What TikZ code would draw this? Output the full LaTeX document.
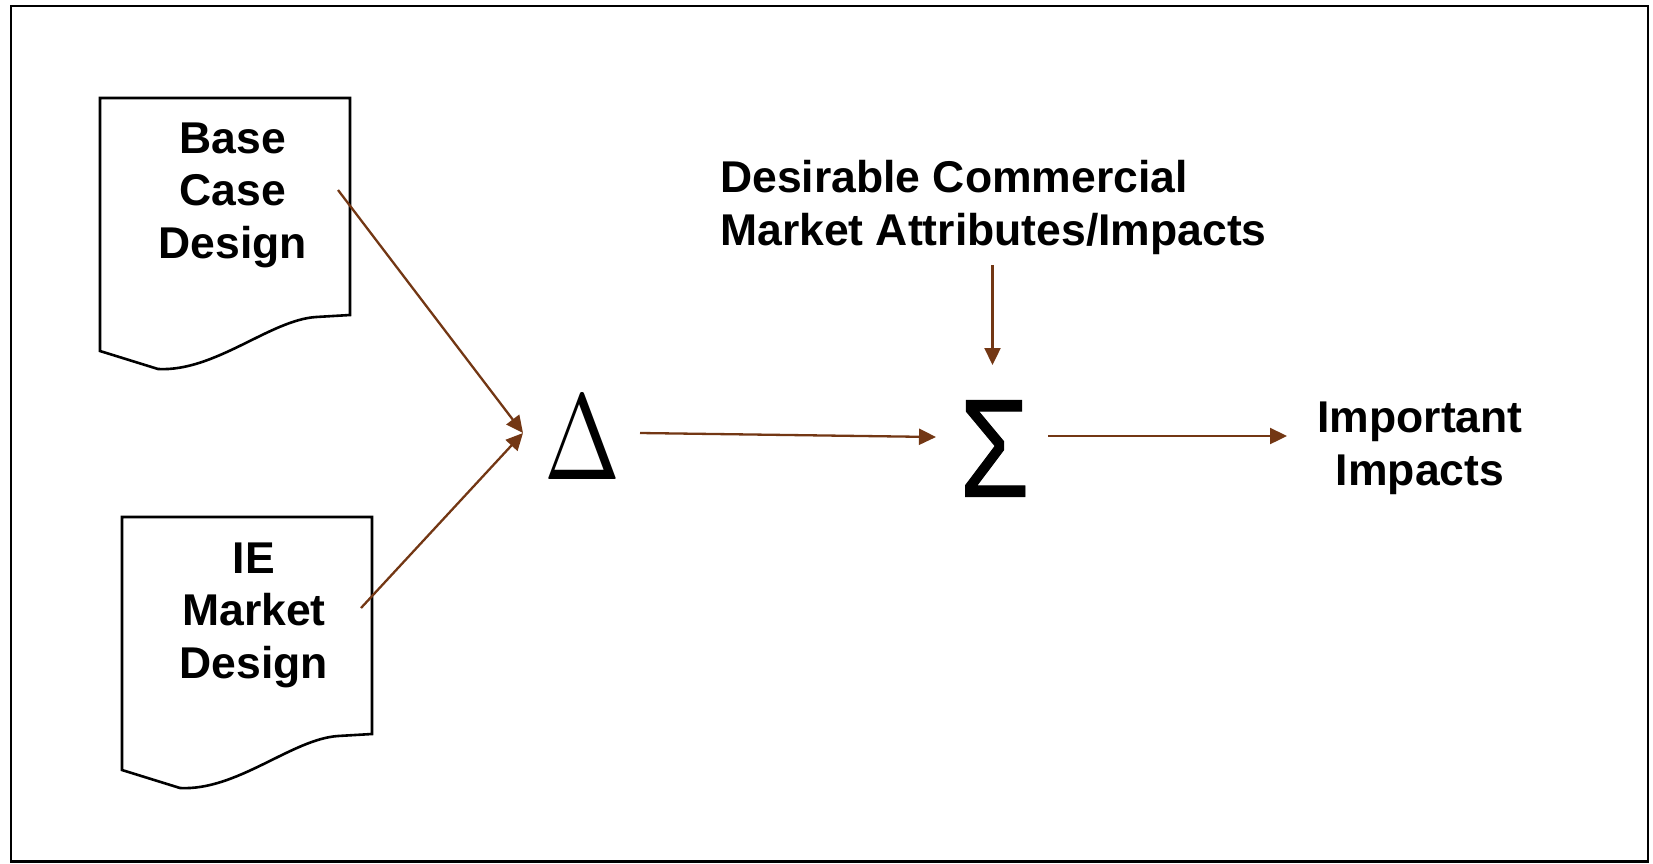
\documentclass[tikz,border=0pt]{standalone}
\usepackage{fontspec}
\setmainfont{Liberation Sans}
\newfontfamily\sigmafont[FakeBold=0.8]{Liberation Sans}
\usetikzlibrary{arrows.meta}
\definecolor{arrowbrown}{RGB}{115,55,20}
\tikzset{
  lbl/.style={font=\fontsize{44.5pt}{52.5pt}\selectfont\bfseries, align=center, inner sep=0pt, anchor=base},
  doc/.style={draw=black, line width=2.6pt, line join=miter},
  arr/.style={draw=arrowbrown, line width=2.3pt, -{Triangle[length=17pt,width=16pt]}},
  sym/.style={inner sep=0pt, outer sep=0pt},
}
\begin{document}
\begin{tikzpicture}[x=1pt,y=-1pt]
\useasboundingbox (0,0) rectangle (1653,863);
\draw[line width=2.5pt] (11,6) rectangle (1648,861.5);
% document shapes
\draw[doc] (100,98) -- (350,98) -- (350,315) -- (316,317)
  .. controls (270,320) and (215,372) .. (158,369) -- (100,351) -- cycle;
\begin{scope}[shift={(22,419)}]
\draw[doc] (100,98) -- (350,98) -- (350,315) -- (316,317)
  .. controls (270,320) and (215,372) .. (158,369) -- (100,351) -- cycle;
\end{scope}
% labels (base anchor = baseline of the last line)
\node[lbl] (base) at (233,258) {Base\\Case\\Design};
\node[lbl] (ie) at (254,678) {IE\\Market\\Design};
\node[lbl, align=left, anchor=base west] (attr) at (720,245) {Desirable Commercial\\Market Attributes/Impacts};
\node[lbl] (imp) at (1420,485) {Important\\Impacts};
% symbols
\node[sym] (delta) at (582.5,438) {\resizebox*{76pt}{83pt}{$\Delta$}};
\node[sym] (sigma) at (994.5,448.5) {\resizebox*{70pt}{96pt}{\sigmafont Σ}};
% connector ends
\coordinate (baseOut) at (338,190);
\coordinate (ieOut) at (361,608);
\coordinate (deltaIn) at (523,433);
\coordinate (deltaOut) at (640,433);
\coordinate (sigmaInL) at (936,437);
\coordinate (attrOut) at (992.5,265);
\coordinate (sigmaInT) at (992.5,365);
\coordinate (sigmaOut) at (1048,436);
\coordinate (impIn) at (1287,436);
% connectors
\draw[arr] (baseOut) -- (deltaIn);
\draw[arr] (ieOut) -- (deltaIn);
\draw[arr] (deltaOut) -- (sigmaInL);
\draw[arr] (attrOut) -- (sigmaInT);
\draw[arr] (sigmaOut) -- (impIn);
\end{tikzpicture}
\end{document}
